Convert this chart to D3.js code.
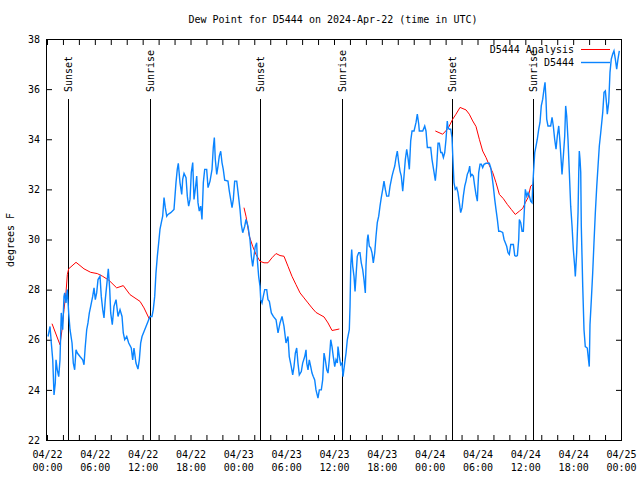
<!DOCTYPE html>
<html><head><meta charset="utf-8">
<script src="https://cdn.jsdelivr.net/npm/d3@7"></script>
<style>
body{margin:0;background:#fff}
svg text{font-family:"DejaVu Sans Mono",monospace;font-size:10px;fill:#000}
</style>
</head><body>
<svg id="chart" width="640" height="480"></svg>
<script>
// Hours after 2024-04-22 00:00 UTC
const obsHours = [0.13,0.38,0.54,0.72,0.88,1.04,1.13,1.29,1.47,1.63,1.79,1.97,2.13,2.22,2.38,2.55,2.72,2.89,3.14,3.30,3.47,3.64,3.80,4.14,4.48,4.64,4.80,4.98,5.14,5.31,5.48,5.73,5.90,6.06,6.23,6.40,6.65,6.81,6.99,7.15,7.31,7.56,7.69,7.87,7.99,8.19,8.40,8.66,8.91,9.16,9.41,9.57,9.75,10.00,10.25,10.57,10.75,10.91,11.16,11.41,11.58,11.75,11.92,12.17,12.42,12.67,12.92,13.17,13.33,13.51,13.67,13.84,14.01,14.17,14.34,14.51,14.68,14.84,15.02,15.18,15.52,15.93,16.18,16.34,16.47,16.68,16.90,17.02,17.19,17.44,17.60,17.77,17.94,18.10,18.28,18.44,18.60,18.78,18.94,19.10,19.28,19.44,19.61,19.78,20.03,20.20,20.45,20.70,20.86,20.99,21.11,21.29,21.45,21.61,21.79,21.95,22.11,22.29,22.70,22.87,23.04,23.21,23.37,23.54,23.80,23.96,24.21,24.37,24.55,24.80,24.96,25.21,25.46,25.63,25.80,25.96,26.13,26.30,26.38,26.55,26.72,26.81,26.97,27.13,27.31,27.56,27.72,27.89,28.14,28.39,28.73,28.98,29.23,29.48,29.73,29.98,30.23,30.39,30.64,30.82,30.98,31.15,31.32,31.48,31.65,31.90,32.07,32.33,32.49,32.58,32.74,32.90,33.08,33.24,33.40,33.58,33.74,33.99,34.16,34.41,34.58,34.75,34.91,35.09,35.25,35.41,35.59,35.75,35.91,36.09,36.25,36.42,36.50,36.67,36.84,37.00,37.13,37.34,37.51,37.67,37.92,38.01,38.10,38.22,38.35,38.51,38.64,38.76,38.92,39.10,39.26,39.42,39.60,39.76,39.93,40.01,40.18,40.27,40.43,40.60,40.77,40.93,41.11,41.27,41.43,41.61,41.77,41.93,42.11,42.27,42.44,42.61,42.86,43.03,43.28,43.44,43.62,43.78,43.94,44.12,44.28,44.44,44.62,44.78,44.95,45.12,45.28,45.45,45.62,45.79,46.04,46.29,46.45,46.63,46.70,47.13,47.38,47.54,47.71,48.13,48.29,48.54,48.71,48.88,49.05,49.21,49.39,49.55,49.72,49.89,50.05,50.21,50.30,50.46,50.64,50.80,50.89,51.05,51.21,51.39,51.55,51.72,51.89,52.06,52.22,52.40,52.56,52.72,52.90,53.02,53.15,53.31,53.48,53.65,53.81,53.98,54.06,54.15,54.32,54.48,54.65,54.82,55.07,55.32,55.48,55.66,55.82,55.98,56.16,56.32,56.49,56.66,56.82,57.16,57.33,57.49,57.66,57.83,57.99,58.17,58.50,58.67,58.83,59.00,59.17,59.25,59.42,59.59,59.75,59.84,60.00,60.18,60.34,60.51,60.67,60.84,60.93,61.00,61.18,61.34,61.50,61.68,61.84,62.00,62.18,62.34,62.47,62.59,62.68,62.84,63.18,63.35,63.51,63.68,63.85,64.01,64.19,64.35,64.51,64.60,64.77,64.94,65.06,65.19,65.35,65.52,65.69,65.86,66.02,66.19,66.27,66.44,66.61,66.70,66.77,66.86,66.95,67.02,67.20,67.36,67.52,67.77,67.95,68.02,68.11,68.28,68.45,68.61,68.78,68.96,69.12,69.28,69.46,69.71,69.87,70.04,70.21,70.28,70.46,70.62,70.78,70.96,71.12,71.29,71.46,71.62,71.79];
const obsDewPoint = [26.13,26.53,25.87,25.2,23.8,24.28,25.2,24.8,24.53,25.2,27.07,26.4,27.73,27.87,27.47,28.0,27.07,26.4,25.87,25.07,24.8,25.6,25.47,25.33,25.2,25.0,25.73,26.4,26.67,27.07,27.33,27.73,28.07,27.6,27.87,28.4,28.53,27.73,27.2,26.87,27.6,28.4,28.83,28.0,27.07,26.6,27.33,27.6,26.93,27.2,26.93,26.27,26.0,26.13,25.87,25.67,25.2,25.67,25.07,24.83,25.2,25.87,26.13,26.33,26.53,26.73,26.93,26.93,27.2,27.73,28.67,29.33,29.87,30.4,30.67,30.93,31.67,31.27,30.93,31.0,31.07,31.2,32.27,32.8,33.04,32.27,31.8,32.4,32.64,32.47,31.73,31.33,31.6,32.67,33.07,31.6,32.0,32.53,31.47,31.13,31.33,30.8,32.27,32.8,32.8,32.07,32.33,32.8,33.67,34.07,33.2,32.6,32.93,33.33,33.52,33.07,32.8,32.37,32.33,31.93,31.6,31.27,31.6,32.33,32.33,31.9,31.2,30.6,30.27,30.53,30.8,30.53,30.0,29.33,28.93,29.33,29.73,29.87,29.2,28.53,28.13,27.6,27.47,27.73,28.0,28.0,27.6,27.53,27.07,26.93,26.8,26.27,26.67,26.93,26.53,25.87,26.13,25.33,24.93,24.6,24.93,25.47,25.67,25.07,24.6,24.73,25.07,25.33,25.6,25.07,24.8,25.2,24.93,24.67,24.53,24.4,24.0,23.67,24.0,24.0,24.4,25.47,25.2,24.8,24.67,25.2,26.0,25.73,25.33,24.93,25.2,25.07,25.73,25.33,25.0,25.07,24.53,25.07,25.47,26.0,26.4,27.33,28.93,29.6,28.93,28.53,27.93,28.53,29.33,29.47,29.47,29.07,28.8,28.4,27.87,28.93,30.0,30.2,29.73,29.67,29.47,29.07,29.47,30.13,30.67,30.93,31.33,31.67,32.0,32.33,32.0,31.73,31.73,32.13,32.53,32.73,32.93,33.27,33.53,33.07,32.73,32.53,31.93,32.53,33.2,33.6,33.27,32.8,33.93,34.33,34.33,34.67,35.0,34.6,34.33,34.33,34.53,34.33,33.67,33.67,33.2,32.7,32.35,32.93,33.84,33.84,33.47,33.47,33.27,33.47,34.0,34.73,34.47,34.4,34.4,34.07,33.4,32.27,32.0,32.07,31.87,31.47,31.07,31.27,31.73,32.13,32.33,32.6,32.73,32.93,32.53,32.6,32.53,32.13,31.8,31.53,32.13,32.67,33.0,33.0,32.87,33.0,33.04,33.04,33.04,32.87,32.53,32.13,31.6,31.2,30.8,30.33,30.33,30.28,30.0,29.87,29.73,29.47,29.4,29.8,29.8,29.36,29.33,29.36,30.0,30.8,30.67,30.33,30.33,30.93,32.0,31.73,31.87,31.73,31.53,31.47,32.13,32.53,33.47,33.73,34.0,34.4,34.67,35.33,35.6,36.0,36.27,35.6,34.8,34.53,34.53,34.87,34.53,34.0,33.6,34.13,34.53,33.87,33.07,32.6,33.33,34.13,35.33,34.93,34.0,32.67,31.33,30.53,29.6,28.93,28.53,29.47,31.07,32.67,33.53,33.2,32.67,30.53,28.13,26.4,25.73,25.67,25.13,24.93,26.6,27.6,28.67,29.87,31.07,32.13,32.93,33.73,34.27,35.07,35.87,35.93,35.33,35.0,35.47,36.67,37.2,37.4,37.53,37.2,36.8,37.2,37.53];

// Analysis: three segments separated by null
const anaHours = [0.63,1.63,1.88,2.13,2.38,2.55,2.72,3.64,4.64,5.48,6.31,6.99,7.78,8.74,9.57,10.41,11.67,12.17,12.83,
  18.0,
  24.71,24.96,25.38,25.80,26.22,26.72,27.22,27.72,28.22,28.73,29.23,29.73,30.23,30.73,31.23,31.74,32.24,32.74,33.24,33.74,34.24,34.75,35.25,35.75,36.25,36.67,
  42.0,
  48.71,49.63,50.30,50.89,51.30,51.81,52.56,52.97,53.40,53.81,54.23,54.65,55.07,55.48,55.91,56.32,56.74,57.24,57.74,58.24,58.74,59.25,59.67,60.00,60.34,60.67,60.93];
const anaDewPoint = [26.64,25.8,26.4,27.2,27.87,28.6,28.83,29.09,28.83,28.69,28.64,28.53,28.37,28.07,28.16,27.8,27.53,27.27,26.83,
  null,
  31.27,30.93,30.13,29.73,29.4,29.13,29.07,29.07,29.27,29.44,29.36,29.33,28.93,28.53,28.2,27.87,27.67,27.47,27.27,27.09,27.0,26.91,26.67,26.37,26.4,26.43,
  null,
  34.33,34.2,34.43,34.8,35.0,35.27,35.17,35.0,34.73,34.51,34.0,33.53,33.27,32.96,32.67,32.27,31.8,31.63,31.4,31.2,31.0,31.13,31.24,31.47,31.67,32.13,32.2];

const sunHours = [2.67,12.96,26.76,37.04,50.84,61.0];
const sunLabels = ["Sunset","Sunrise","Sunset","Sunrise","Sunset","Sunrise"];
const yTicks = [22,24,26,28,30,32,34,36,38];
const legendLabels = ["D5444 Analysis","D5444"];
const titleText = "Dew Point for D5444 on 2024-Apr-22 (time in UTC)";
const yLabel = "degrees F";

const start = new Date(Date.UTC(2024,3,22,0,0));
const end = new Date(Date.UTC(2024,3,25,0,0));
const toDate = h => new Date(start.getTime() + h*3600000);

const svg = d3.select("#chart");
const x = d3.scaleUtc().domain([start,end]).range([47,621]);
const y = d3.scaleLinear().domain([22,38]).range([440,39]);

const tickDates = d3.utcHour.every(2).range(start, new Date(end.getTime()+1));
const fmtD = d3.utcFormat("%m/%d"), fmtT = d3.utcFormat("%H:%M");

// bottom axis
const gb = svg.append("g").attr("transform","translate(0,440)")
  .call(d3.axisBottom(x).tickValues(tickDates).tickSizeInner(-5).tickSizeOuter(0)
    .tickFormat(d => d.getUTCHours()%6===0 ? "x" : ""));
gb.select(".domain").remove();
gb.selectAll(".tick text").each(function(d){
  const t = d3.select(this);
  t.text(null).attr("dy",null).attr("y",null).attr("font-family",null).attr("font-size",null);
  if (d.getUTCHours()%6!==0) return;
  t.append("tspan").attr("x",0).attr("y",18).text(fmtD(d));
  t.append("tspan").attr("x",0).attr("y",31).text(fmtT(d));
});
// top axis
const gt = svg.append("g").attr("transform","translate(0,40)")
  .call(d3.axisTop(x).tickValues(tickDates).tickSizeInner(-5).tickSizeOuter(0).tickFormat(""));
gt.select(".domain").remove();
// left axis
const gl = svg.append("g").attr("transform","translate(47,0)")
  .call(d3.axisLeft(y).tickValues(yTicks).tickSizeInner(-5).tickSizeOuter(0).tickPadding(7).tickFormat(d3.format("d")));
gl.select(".domain").remove();
gl.selectAll(".tick text").attr("font-family",null).attr("font-size",null);
// right axis
const gr = svg.append("g").attr("transform","translate(621,0)")
  .call(d3.axisRight(y).tickValues(yTicks).tickSizeInner(-5).tickSizeOuter(0).tickFormat(""));
gr.select(".domain").remove();
svg.selectAll(".tick line").attr("stroke","#000");

// frame
svg.append("rect").attr("x",46.5).attr("y",39.5).attr("width",575).attr("height",401)
  .attr("fill","none").attr("stroke","#000").attr("stroke-width",1);

// sun lines & labels
sunHours.forEach((h,i)=>{
  const xs = Math.round(x(toDate(h)))+0.5;
  svg.append("line").attr("x1",xs).attr("x2",xs).attr("y1",99).attr("y2",440)
    .attr("stroke","#000").attr("stroke-width",1);
  svg.append("text").attr("transform",`translate(${xs},92) rotate(-90)`)
    .attr("dy","0.35em").attr("text-anchor","start").text(sunLabels[i]);
});

// series
const obs = obsHours.map((h,i)=>({t:toDate(h), v:obsDewPoint[i]}));
const ana = anaHours.map((h,i)=>({t:toDate(h), v:anaDewPoint[i]}));
const line = d3.line().defined(d=>d.v!=null).x(d=>x(d.t)).y(d=>y(d.v));
svg.append("path").datum(ana).attr("d",line).attr("fill","none").attr("stroke","#ff0000").attr("stroke-width",1);
svg.append("path").datum(obs).attr("d",line).attr("fill","none").attr("stroke","#0a84ff").attr("stroke-width",1.4);

// legend
const legColors = ["#ff0000","#0a84ff"];
legendLabels.forEach((lab,i)=>{
  const ly = 49.5 + i*13;
  svg.append("text").attr("x",574).attr("y",ly+3.5).attr("text-anchor","end").text(lab);
  svg.append("line").attr("x1",581).attr("x2",610).attr("y1",ly).attr("y2",ly)
    .attr("stroke",legColors[i]).attr("stroke-width", i===0?1:1.4);
});

// title & y label
svg.append("text").attr("x",333).attr("y",23).attr("text-anchor","middle").text(titleText);
svg.append("text").attr("transform","translate(14,240) rotate(-90)").attr("text-anchor","middle").text(yLabel);
</script>
</body></html>
